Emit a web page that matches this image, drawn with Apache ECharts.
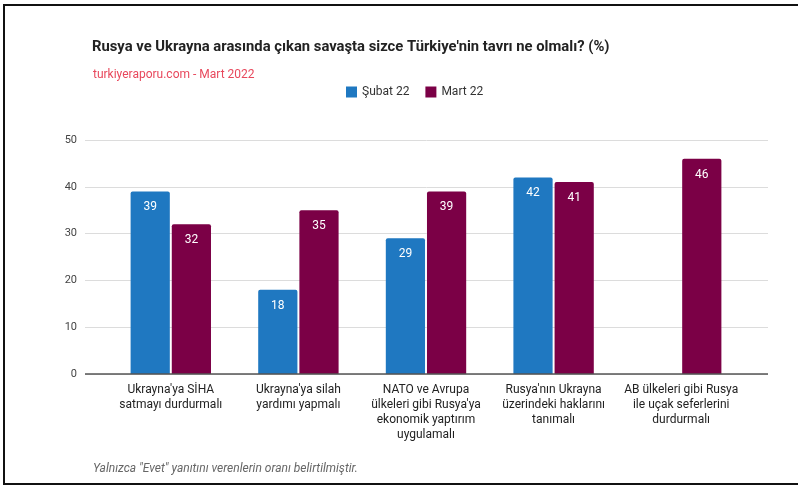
<!DOCTYPE html>
<html>
<head>
<meta charset="utf-8">
<script src="https://cdn.jsdelivr.net/npm/echarts@6/dist/echarts.min.js"></script>
<style>
html,body{margin:0;padding:0;background:#fff;}
#wrap{position:relative;width:798px;height:485px;}
#chart{position:absolute;left:0;top:0;width:798px;height:485px;}
#frame{position:absolute;left:3px;top:4px;width:800px;height:477px;border-left:2px solid #111;border-top:2px solid #111;border-bottom:2px solid #111;pointer-events:none;}
</style>
</head>
<body>
<div id="wrap"><div id="chart"></div><div id="frame"></div></div>
<script>
const titleText = "Rusya ve Ukrayna arasında çıkan savaşta sizce Türkiye'nin tavrı ne olmalı? (%)";
const subtitleText = "turkiyeraporu.com - Mart 2022";
const footnoteText = "Yalnızca \"Evet\" yanıtını verenlerin oranı belirtilmiştir.";
const categories = [
  "Ukrayna'ya SİHA\nsatmayı durdurmalı",
  "Ukrayna'ya silah\nyardımı yapmalı",
  "NATO ve Avrupa\nülkeleri gibi Rusya'ya\nekonomik yaptırım\nuygulamalı",
  "Rusya'nın Ukrayna\nüzerindeki haklarını\ntanımalı",
  "AB ülkeleri gibi Rusya\nile uçak seferlerini\ndurdurmalı"
];
const seriesNames = ["Şubat 22", "Mart 22"];
const subat22 = [39, 18, 29, 42, null];
const mart22 = [32, 35, 39, 41, 46];
const yTicks = [0, 10, 20, 30, 40, 50];

const chart = echarts.init(document.getElementById('chart'), null, {renderer: 'canvas'});
const font = 'Roboto, "Noto Sans", sans-serif';
const labelCfg = {show: true, position: 'insideTop', distance: 10, color: '#fff', fontSize: 12, fontFamily: font};
chart.setOption({
  animation: false,
  textStyle: {fontFamily: font},
  title: [
    {text: titleText, left: 87, top: 35, textStyle: {fontSize: 14.8, fontWeight: 'bold', color: '#222', fontFamily: font}},
    {text: subtitleText, left: 88, top: 64, textStyle: {fontSize: 12, fontWeight: 'normal', color: '#e8485c', fontFamily: font}},
    {text: footnoteText, left: 88, top: 458, textStyle: {fontSize: 12, fontWeight: 'normal', fontStyle: 'italic', color: '#666', fontFamily: font}}
  ],
  legend: {
    data: seriesNames, top: 81, left: 341, itemWidth: 11, itemHeight: 11, itemGap: 16,
    icon: 'rect', textStyle: {fontSize: 12, color: '#333', fontFamily: font}
  },
  grid: [
    {left: 85, right: 30, top: 140, bottom: 111, containLabel: false},
    {left: 107, right: 53, top: 140, bottom: 111, containLabel: false}
  ],
  xAxis: [
    {type: 'category', gridIndex: 0, data: [''], show: false},
    {type: 'category', gridIndex: 1, data: categories,
     axisLine: {show: false}, axisTick: {show: false},
     axisLabel: {interval: 0, fontSize: 12, color: '#222', lineHeight: 15, margin: 8, fontFamily: font}}
  ],
  yAxis: [
    {type: 'value', gridIndex: 0, min: 0, max: 50, interval: 10,
     axisLine: {show: false}, axisTick: {show: false},
     axisLabel: {fontSize: 11, color: '#444', margin: 8, fontFamily: font},
     splitLine: {lineStyle: {color: '#dcdcdc', width: 1}}},
    {type: 'value', gridIndex: 1, min: 0, max: 50, interval: 10, show: false, splitLine: {show: false}}
  ],
  series: [
    {name: seriesNames[0], type: 'bar', xAxisIndex: 1, yAxisIndex: 1, data: subat22,
     barCategoryGap: '37%', barGap: '5%', itemStyle: {color: '#1f78c1', borderRadius: [2,2,0,0]}, label: labelCfg},
    {name: seriesNames[1], type: 'bar', xAxisIndex: 1, yAxisIndex: 1, data: mart22,
     barCategoryGap: '37%', barGap: '5%', itemStyle: {color: '#7b0046', borderRadius: [2,2,0,0]}, label: labelCfg},
    {type: 'line', xAxisIndex: 0, yAxisIndex: 0, data: [], silent: true,
     markLine: {silent: true, symbol: 'none', label: {show: false}, lineStyle: {color: '#555', width: 1.5, type: 'solid'}, data: [{yAxis: 0}]}}
  ]
});
</script>
</body>
</html>
